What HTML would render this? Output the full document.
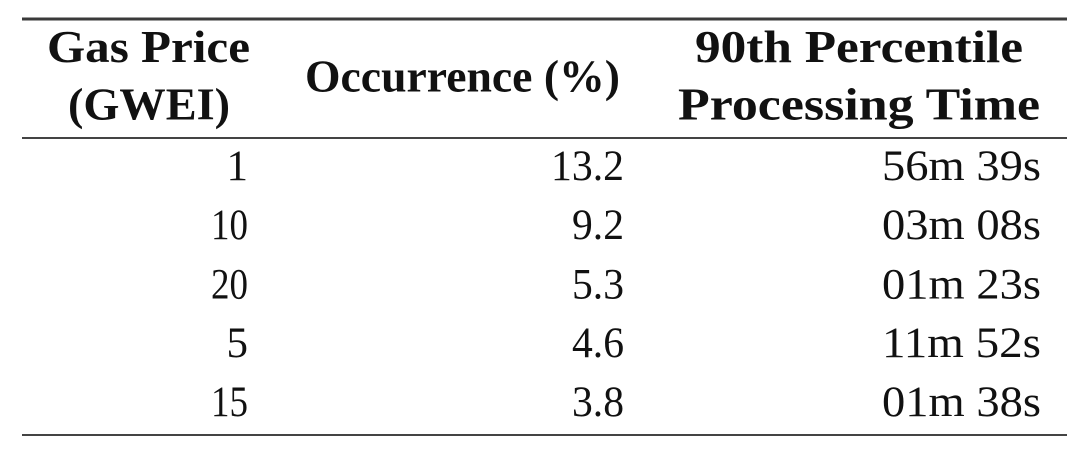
<!DOCTYPE html>
<html>
<head>
<meta charset="utf-8">
<style>
  html, body { margin: 0; padding: 0; background: #ffffff; }
  body { width: 1080px; height: 466px; overflow: hidden; }
  svg { display: block; }
  text { font-family: "Liberation Serif", "DejaVu Serif", serif; fill: #111; }
  .h { font-weight: bold; font-size: 45px; }
  .d { font-size: 43px; }
</style>
</head>
<body>
<svg width="1080" height="466" viewBox="0 0 1080 466" xmlns="http://www.w3.org/2000/svg">
  <rect x="0" y="0" width="1080" height="466" fill="#ffffff"/>

  <!-- rules -->
  <rect x="22" y="17.5" width="1045" height="3" fill="#3a3a3a"/>
  <rect x="22" y="137" width="1045" height="2" fill="#444"/>
  <rect x="22" y="434" width="1045" height="2" fill="#444"/>

  <!-- header -->
  <text class="h" x="47" y="62" textLength="203" lengthAdjust="spacingAndGlyphs">Gas Price</text>
  <text class="h" x="68" y="119.5" textLength="162" lengthAdjust="spacingAndGlyphs">(GWEI)</text>
  <text class="h" x="305" y="91.5" textLength="315" lengthAdjust="spacingAndGlyphs">Occurrence (%)</text>
  <text class="h" x="695" y="62" textLength="328" lengthAdjust="spacingAndGlyphs">90th Percentile</text>
  <text class="h" x="678" y="119.5" textLength="362" lengthAdjust="spacingAndGlyphs">Processing Time</text>

  <!-- column 1 -->
  <text class="d" x="248" y="180" text-anchor="end">1</text>
  <text class="d" x="248" y="239" text-anchor="end" textLength="37" lengthAdjust="spacingAndGlyphs">10</text>
  <text class="d" x="248" y="298.5" text-anchor="end" textLength="37" lengthAdjust="spacingAndGlyphs">20</text>
  <text class="d" x="248" y="357" text-anchor="end">5</text>
  <text class="d" x="248" y="416" text-anchor="end" textLength="37" lengthAdjust="spacingAndGlyphs">15</text>

  <!-- column 2 -->
  <text class="d" x="551" y="180" textLength="73" lengthAdjust="spacingAndGlyphs">13.2</text>
  <text class="d" x="572" y="239" textLength="52" lengthAdjust="spacingAndGlyphs">9.2</text>
  <text class="d" x="572" y="298.5" textLength="52" lengthAdjust="spacingAndGlyphs">5.3</text>
  <text class="d" x="572" y="357" textLength="52" lengthAdjust="spacingAndGlyphs">4.6</text>
  <text class="d" x="572" y="416" textLength="52" lengthAdjust="spacingAndGlyphs">3.8</text>

  <!-- column 3 -->
  <text class="d" x="882" y="180" textLength="159" lengthAdjust="spacingAndGlyphs">56m 39s</text>
  <text class="d" x="882" y="239" textLength="159" lengthAdjust="spacingAndGlyphs">03m 08s</text>
  <text class="d" x="882" y="298.5" textLength="159" lengthAdjust="spacingAndGlyphs">01m 23s</text>
  <text class="d" x="882" y="357" textLength="159" lengthAdjust="spacingAndGlyphs">11m 52s</text>
  <text class="d" x="882" y="416" textLength="159" lengthAdjust="spacingAndGlyphs">01m 38s</text>
</svg>
</body>
</html>
